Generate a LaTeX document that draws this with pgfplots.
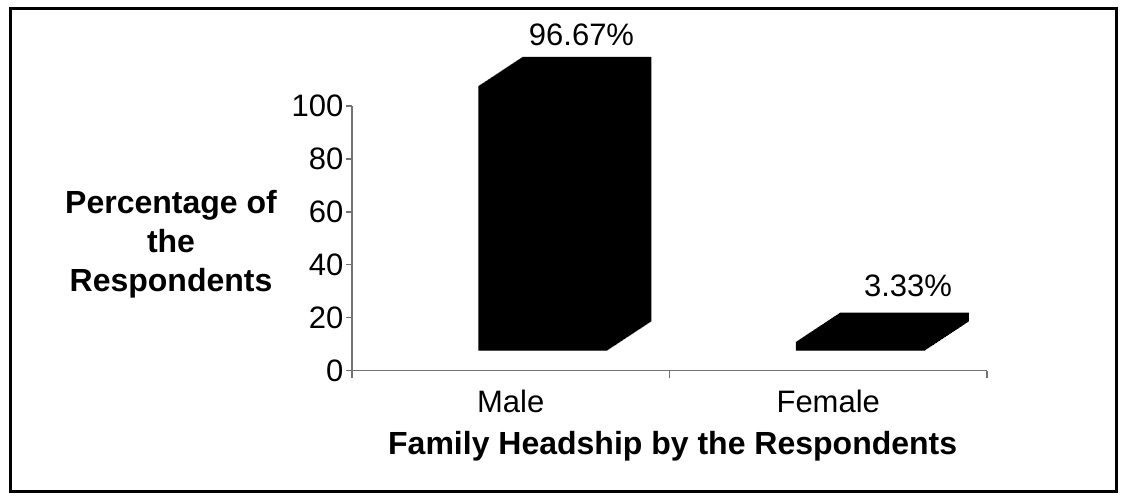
\documentclass[border=0pt]{standalone}
\usepackage{fontspec}
\setmainfont{Liberation Sans}
\usepackage{pgfplots}
\pgfplotsset{compat=1.18}

% 3D look: the bar path is filled again, step by step, towards the back
\tikzset{
  extrude step/.style={preaction={fill=black,
      transform canvas={shift={(#1*1pt,#1*0.66pt)}}}},
  extrude/.style={extrude step/.list={1,...,44}},
}
\newcommand\pct{\pgfmathprintnumber[fixed,fixed zerofill,precision=2]{\pgfplotspointmeta}\%}

\begin{document}
\begin{tikzpicture}[x=1pt,y=1pt]
\useasboundingbox (0,0) rectangle (1126,500);
\draw[line width=2.5pt] (10.5,8.5) rectangle (1116.5,491.5);

% axes, ticks, titles and value labels
\begin{axis}[
  at={(352pt,129.3pt)}, anchor=south west,
  scale only axis, width=635pt, height=264.7pt,
  xmin=-0.5, xmax=1.5, ymin=0, ymax=100,
  clip=false,
  axis x line*=bottom, axis y line*=left,
  axis line style={-, draw=black!55, line width=1.3pt},
  tick style={draw=black!55, line width=1.3pt},
  tick align=outside,
  major tick length=6pt, minor tick length=7pt,
  ytick={0,20,...,100},
  xtick={0,1}, xticklabels={Male,Female},
  minor xtick={-0.5,0.5,1.5},
  major x tick style={draw=none},
  /pgf/number format/assume math mode=true,
  tick label style={font=\fontsize{31}{36}\selectfont},
  yticklabel style={inner sep=0pt, xshift=-2.5pt},
  xticklabel style={anchor=base, inner sep=0pt, yshift=-36pt},
  xlabel={Family Headship by the Respondents},
  xlabel style={at={(axis description cs:0.505,-0.3147)}, anchor=base,
    font=\fontsize{32}{38}\selectfont\bfseries},
  ylabel={Percentage of\\the\\Respondents},
  ylabel style={rotate=-90, at={(axis description cs:-0.285,0.478)},
    anchor=center, align=center, font=\fontsize{32}{38.7}\selectfont\bfseries},
  every node near coord/.style={anchor=base, text=black, inner sep=0pt,
    font=\fontsize{31}{36}\selectfont},
]
\addplot[draw=none, mark=none, nodes near coords={\pct},
  every node near coord/.append style={xshift=70.75pt, yshift=69.8pt}]
  coordinates {(0,96.67)};
\addplot[draw=none, mark=none, nodes near coords={\pct},
  every node near coord/.append style={xshift=79.75pt, yshift=64.9pt}]
  coordinates {(1,3.33)};
\end{axis}

% bars
\begin{axis}[
  at={(352pt,149.3pt)}, anchor=south west,
  scale only axis, width=635pt, height=274pt,
  xmin=-0.5, xmax=1.5, ymin=0, ymax=100,
  hide axis, clip=false,
]
\addplot[ybar, bar width=129pt, bar shift=32pt, fill=black, draw=none, extrude]
  coordinates {(0,96.67) (1,3.33)};
\end{axis}
\end{tikzpicture}
\end{document}
